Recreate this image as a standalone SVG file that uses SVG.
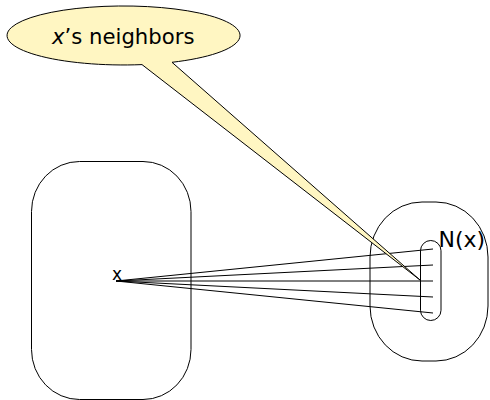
<svg xmlns="http://www.w3.org/2000/svg" width="490" height="400" viewBox="0 0 490 400">
  <style>
    .shape { fill: none; stroke: #000; stroke-width: 1; }
    .edge { stroke: #000; stroke-width: 1; fill: none; }
    .label { font-family: "DejaVu Sans", "Liberation Sans", sans-serif; fill: #000; }
    .callout { fill: #fff6c2; stroke: #000; stroke-width: 1; }
  </style>

  <!-- left set containing x -->
  <g id="set-left">
    <rect class="shape" x="31.5" y="161.5" width="159.5" height="238" rx="48" ry="50"/>
    <text class="label" x="112" y="279.5" font-size="17">x</text>
  </g>

  <!-- right set -->
  <g id="set-right">
    <rect class="shape" x="370" y="202" width="118" height="159" rx="52" ry="55"/>
  </g>

  <!-- neighborhood N(x) -->
  <g id="neighborhood">
    <rect class="shape" x="420.5" y="240.5" width="20.5" height="80" rx="10.25" ry="10.25"/>
    <text class="label" x="438.5" y="246.7" font-size="22">N(x)</text>
  </g>

  <!-- edges from x into N(x) -->
  <g id="edges">
    <line class="edge" x1="116" y1="281" x2="433" y2="249"/>
    <line class="edge" x1="116" y1="281" x2="433" y2="265"/>
    <line class="edge" x1="116" y1="281" x2="433" y2="281"/>
    <line class="edge" x1="116" y1="281" x2="433" y2="297"/>
    <line class="edge" x1="116" y1="281" x2="433" y2="313"/>
  </g>

  <!-- speech bubble pointing at N(x) -->
  <g id="bubble">
    <path class="callout" d="M142,64.6 A116.5,29.5 0 1 1 172,62.3 L420,280 Z"/>
    <text class="label" x="52" y="43.5" font-size="21.2"><tspan font-style="italic">x</tspan>’s neighbors</text>
  </g>
</svg>
